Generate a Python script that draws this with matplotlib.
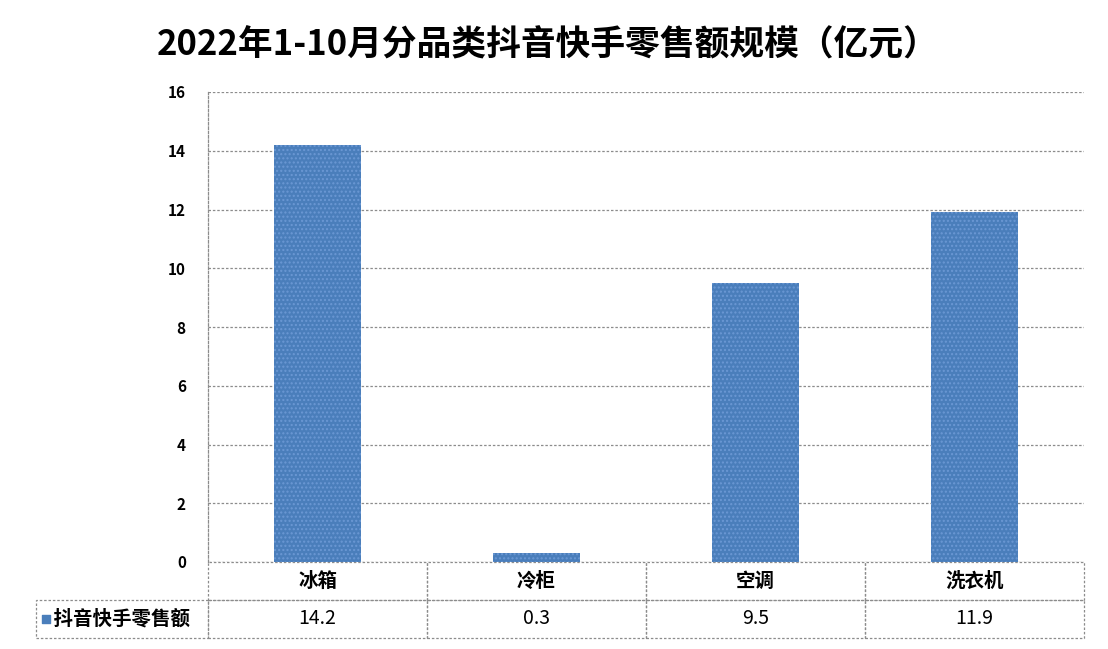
import matplotlib.pyplot as plt

plt.rcParams['font.family'] = ['Noto Sans CJK SC', 'DejaVu Sans']

categories = ['冰箱', '冷柜', '空调', '洗衣机']
sales = [14.2, 0.3, 9.5, 11.9]
series_name = '抖音快手零售额'
title = '2022年1-10月分品类抖音快手零售额规模（亿元）'
yticks = [0, 2, 4, 6, 8, 10, 12, 14, 16]

fig = plt.figure(figsize=(11.08, 6.49), dpi=100)
ax = fig.add_axes([208 / 1108, 1 - 562 / 649, 876 / 1108, 470 / 649])

x = list(range(len(categories)))
ax.bar(x, sales, width=0.4, color='#4a7ebb', hatch='....', zorder=3)
# hatch colour a bit lighter than bar
for p in ax.patches:
    p.set_edgecolor('#6b98d4')
    p.set_linewidth(0)

ax.set_xlim(-0.5, len(categories) - 0.5)
ax.set_ylim(0, 16)
ax.set_yticks(yticks)
ax.set_yticklabels([str(t) for t in yticks], fontsize=11, fontweight='bold')
ax.tick_params(axis='y', length=0, pad=16)
ax.set_xticks([])
ax.grid(axis='y', color='#8c8c8c', linestyle=(0, (2, 1.5)), linewidth=0.9, zorder=0)

for s in ['top', 'right', 'bottom']:
    ax.spines[s].set_visible(False)
ax.spines['left'].set_color('#8c8c8c')
ax.spines['left'].set_linestyle((0, (2, 1.5)))
ax.spines['left'].set_linewidth(0.9)

# data table under the bars (first column = legend cell)
row_h = 38 / 470
lab_w = 172 / 876
col_w = 1 / len(categories)
cells = [[''] + categories,
         ['    ' + series_name] + [str(v) for v in sales]]
tbl = ax.table(cellText=cells,
               colWidths=[lab_w] + [col_w] * len(categories),
               cellLoc='center',
               bbox=[-lab_w, -2 * row_h, 1 + lab_w, 2 * row_h])
tbl.auto_set_font_size(False)
for (r, c), cell in tbl.get_celld().items():
    cell.set_edgecolor('#8c8c8c')
    cell.set_linestyle((0, (2, 1.5)))
    cell.set_linewidth(0.9)
    cell.set_facecolor('none')
    cell.get_text().set_fontsize(14)
    if r == 0:
        cell.get_text().set_fontweight('bold')
        if c == 0:
            cell.visible_edges = ''
    if c == 0 and r == 1:
        cell.get_text().set_fontweight('bold')
        cell.get_text().set_ha('left')
        cell.PAD = 0.0

ax.scatter([-lab_w + 0.011], [-1.5 * row_h], marker='s', s=36, color='#4a7ebb',
           transform=ax.transAxes, clip_on=False, zorder=5)

fig.text(0.494, 0.93, title, ha='center', va='center', fontsize=25, fontweight='bold')

fig.savefig('out.png', dpi=100)
